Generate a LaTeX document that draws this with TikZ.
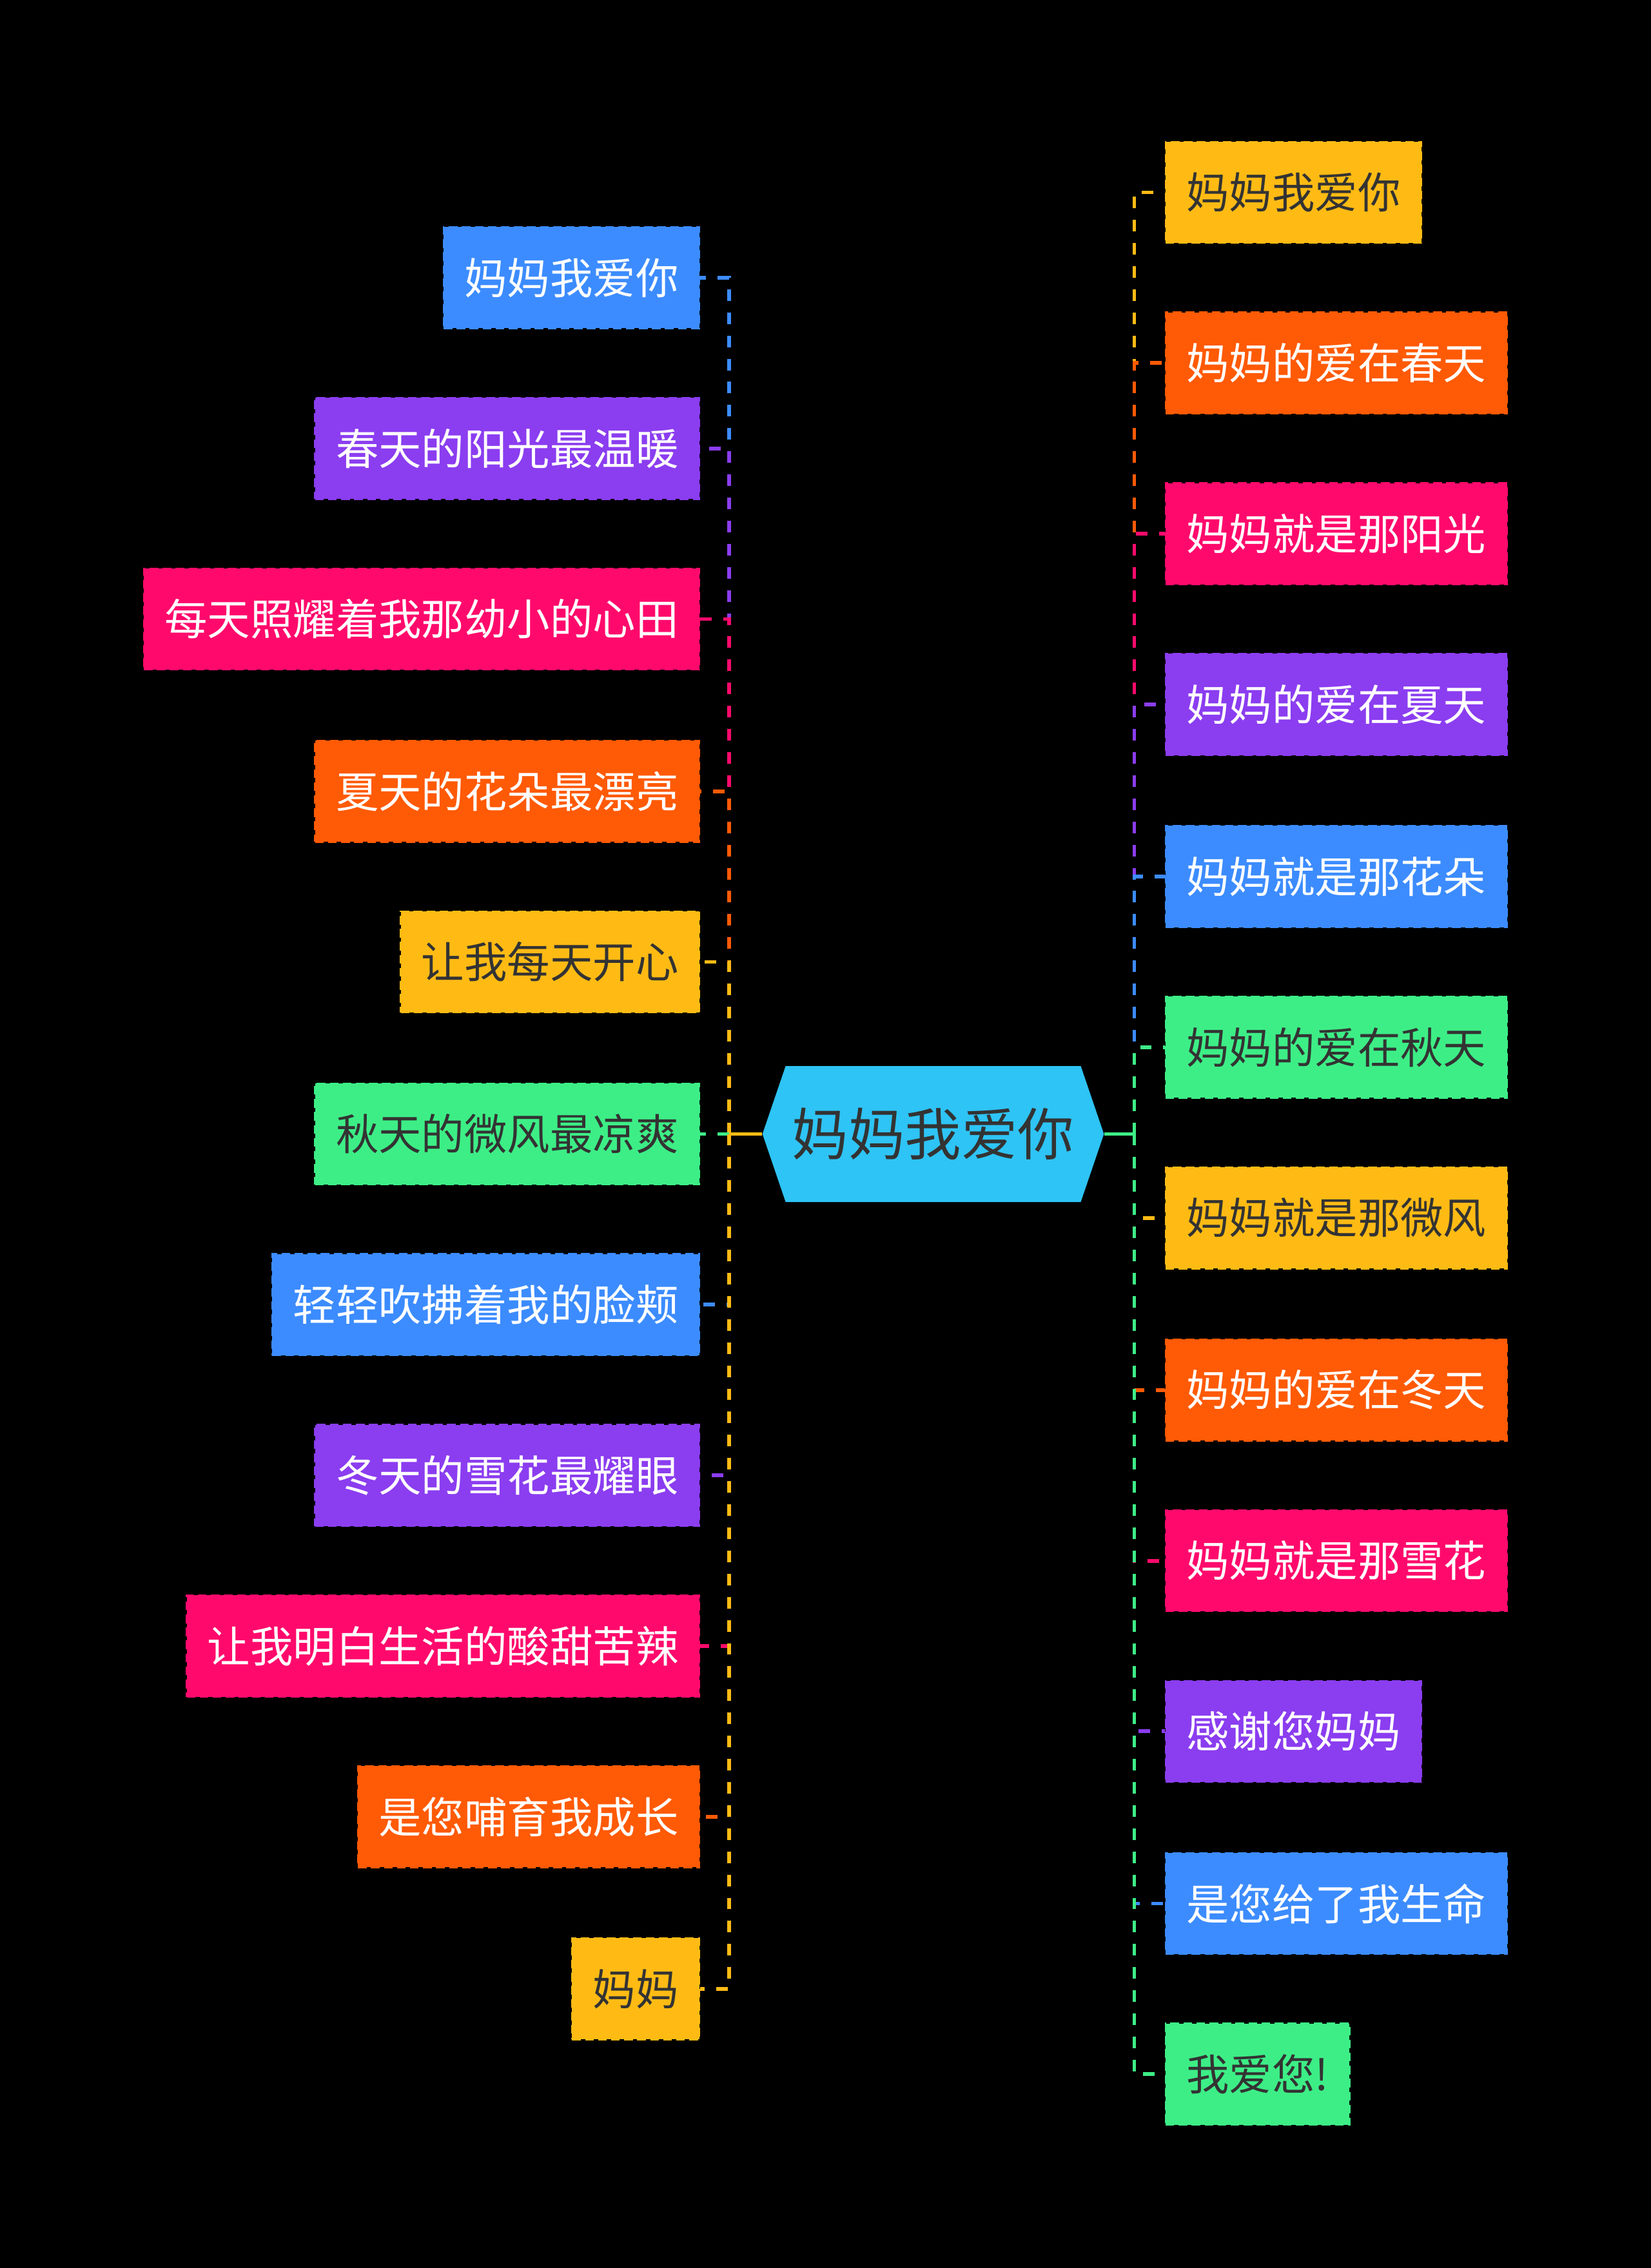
\documentclass[tikz,border=0pt]{standalone}
\usepackage{fontspec}
\setmainfont{Noto Sans CJK SC}
\definecolor{cblue}{HTML}{3C8CFF}
\definecolor{cpurple}{HTML}{8B3DF0}
\definecolor{cpink}{HTML}{FF0A6C}
\definecolor{corange}{HTML}{FF5A05}
\definecolor{cyellow}{HTML}{FFBB14}
\definecolor{cgreen}{HTML}{3DEE86}
\definecolor{croot}{HTML}{2EC4F5}
\definecolor{cink}{HTML}{333333}
\begin{document}
\begin{tikzpicture}[x=0.5pt, y=-0.5pt,
leaf/.style 2 args={draw=#1, fill=#1, text=#2, dash pattern=on 3pt off 1.5pt, line width=0.6pt, minimum height=35pt, inner xsep=7.2pt, inner ysep=0pt, font=\fontsize{14.8}{18}\selectfont},
link/.style={line width=1.3pt, dash pattern=on 4pt off 4pt},
rootbox/.style={minimum width=118pt, minimum height=47pt, inner sep=0pt, text=cink, font=\fontsize{19.5}{23}\selectfont,
  path picture={\fill[croot] (path picture bounding box.west) -- ([xshift=8pt]path picture bounding box.north west) -- ([xshift=-8pt]path picture bounding box.north east) -- (path picture bounding box.east) -- ([xshift=-8pt]path picture bounding box.south east) -- ([xshift=8pt]path picture bounding box.south west) -- cycle;}}
]

\fill[black] (0,0) rectangle (1141,1568);

\node (root) at (645, 784) [rootbox] {妈妈我爱你};

%left side
\node (l1) at (484, 192) [leaf={cblue}{white}, anchor=east] {妈妈我爱你};
\node (l2) at (484, 310) [leaf={cpurple}{white}, anchor=east] {春天的阳光最温暖};
\node (l3) at (484, 428) [leaf={cpink}{white}, anchor=east] {每天照耀着我那幼小的心田};
\node (l4) at (484, 547) [leaf={corange}{white}, anchor=east] {夏天的花朵最漂亮};
\node (l5) at (484, 665) [leaf={cyellow}{cink}, anchor=east] {让我每天开心};
\node (l6) at (484, 784) [leaf={cgreen}{cink}, anchor=east] {秋天的微风最凉爽};
\node (l7) at (484, 902) [leaf={cblue}{white}, anchor=east] {轻轻吹拂着我的脸颊};
\node (l8) at (484, 1020) [leaf={cpurple}{white}, anchor=east] {冬天的雪花最耀眼};
\node (l9) at (484, 1138) [leaf={cpink}{white}, anchor=east] {让我明白生活的酸甜苦辣};
\node (l10) at (484, 1256) [leaf={corange}{white}, anchor=east] {是您哺育我成长};
\node (l11) at (484, 1375) [leaf={cyellow}{cink}, anchor=east] {妈妈};

%right side
\node (r1) at (805, 133) [leaf={cyellow}{cink}, anchor=west] {妈妈我爱你};
\node (r2) at (805, 251) [leaf={corange}{white}, anchor=west] {妈妈的爱在春天};
\node (r3) at (805, 369) [leaf={cpink}{white}, anchor=west] {妈妈就是那阳光};
\node (r4) at (805, 487) [leaf={cpurple}{white}, anchor=west] {妈妈的爱在夏天};
\node (r5) at (805, 606) [leaf={cblue}{white}, anchor=west] {妈妈就是那花朵};
\node (r6) at (805, 724) [leaf={cgreen}{cink}, anchor=west] {妈妈的爱在秋天};
\node (r7) at (805, 842) [leaf={cyellow}{cink}, anchor=west] {妈妈就是那微风};
\node (r8) at (805, 961) [leaf={corange}{white}, anchor=west] {妈妈的爱在冬天};
\node (r9) at (805, 1079) [leaf={cpink}{white}, anchor=west] {妈妈就是那雪花};
\node (r10) at (805, 1197) [leaf={cpurple}{white}, anchor=west] {感谢您妈妈};
\node (r11) at (805, 1316) [leaf={cblue}{white}, anchor=west] {是您给了我生命};
\node (r12) at (805, 1434) [leaf={cgreen}{cink}, anchor=west] {我爱您!};

\coordinate (lfork) at (504, 784);
\coordinate (rfork) at (784, 784);

\draw[link, cblue] (lfork) |- (l1.east);
\draw[link, cpurple] (lfork) |- (l2.east);
\draw[link, cpink] (lfork) |- (l3.east);
\draw[link, corange] (lfork) |- (l4.east);
\draw[link, cyellow] (lfork) |- (l5.east);
\draw[link, cgreen] (lfork) |- (l6.east);
\draw[link, cblue] (lfork) |- (l7.east);
\draw[link, cpurple] (lfork) |- (l8.east);
\draw[link, cpink] (lfork) |- (l9.east);
\draw[link, corange] (lfork) |- (l10.east);
\draw[link, cyellow] (lfork) |- (l11.east);
\draw[cyellow, line width=1.3pt] (root.west) -- (lfork);

\draw[link, cyellow] (rfork) |- (r1.west);
\draw[link, corange] (rfork) |- (r2.west);
\draw[link, cpink] (rfork) |- (r3.west);
\draw[link, cpurple] (rfork) |- (r4.west);
\draw[link, cblue] (rfork) |- (r5.west);
\draw[link, cgreen] (rfork) |- (r6.west);
\draw[link, cyellow] (rfork) |- (r7.west);
\draw[link, corange] (rfork) |- (r8.west);
\draw[link, cpink] (rfork) |- (r9.west);
\draw[link, cpurple] (rfork) |- (r10.west);
\draw[link, cblue] (rfork) |- (r11.west);
\draw[link, cgreen] (rfork) |- (r12.west);
\draw[cgreen, line width=1.3pt] (root.east) -- (rfork);

\end{tikzpicture}
\end{document}
